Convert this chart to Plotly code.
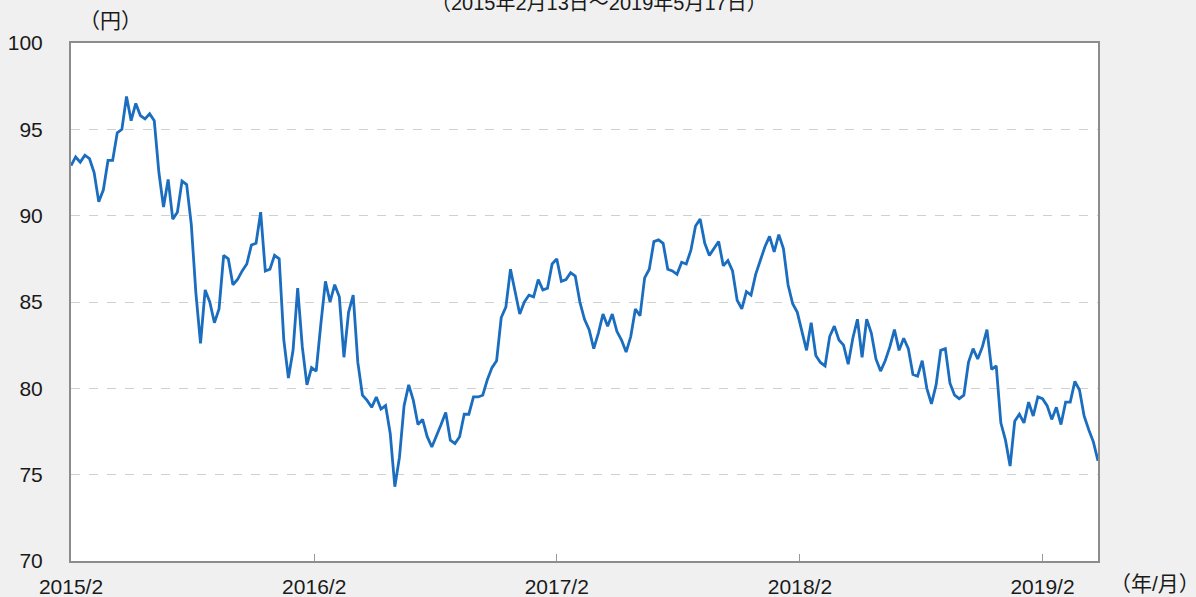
import pandas as pd
import plotly.graph_objects as go

# Weekly closing values (yen)
values = [
    92.9, 93.4, 93.1, 93.5, 93.3, 92.5, 90.8, 91.5, 93.2, 93.2,
    94.8, 95.0, 96.9, 95.5, 96.5, 95.8, 95.6, 95.9, 95.5, 92.5,
    90.5, 92.1, 89.8, 90.2, 92.0, 91.8, 89.5, 85.5, 82.6, 85.7,
    85.0, 83.8, 84.6, 87.7, 87.5, 86.0, 86.3, 86.8, 87.2, 88.3,
    88.4, 90.2, 86.8, 86.9, 87.7, 87.5, 82.8, 80.6, 82.2, 85.8,
    82.4, 80.2, 81.2, 81.0, 83.7, 86.2, 85.0, 86.0, 85.3, 81.8,
    84.4, 85.4, 81.5, 79.6, 79.3, 78.9, 79.5, 78.8, 79.0, 77.4,
    74.3, 76.0, 79.0, 80.2, 79.3, 77.9, 78.2, 77.2, 76.6, 77.2,
    77.9,
    78.6, 77.0, 76.8, 77.2, 78.5, 78.5, 79.5, 79.5, 79.6, 80.5,
    81.2, 81.6, 84.1, 84.7, 86.9, 85.6, 84.3, 85.0, 85.4, 85.3,
    86.3, 85.7, 85.8, 87.2, 87.5, 86.2, 86.3, 86.7, 86.5, 85.0,
    84.0, 83.4, 82.3, 83.2, 84.3, 83.6, 84.3, 83.3, 82.8, 82.1,
    83.0, 84.6, 84.2, 86.4, 86.9, 88.5, 88.6, 88.4, 86.9, 86.8,
    86.6, 87.3, 87.2, 88.0, 89.4, 89.8, 88.4, 87.7, 88.1, 88.5,
    87.1, 87.4, 86.8, 85.1, 84.6, 85.6, 85.4, 86.6, 87.4, 88.2,
    88.8, 87.9, 88.9, 88.1, 86.0, 84.9, 84.4, 83.3, 82.2, 83.8,
    81.9, 81.5, 81.3, 83.0, 83.6, 82.8, 82.5, 81.4, 82.9, 84.0,
    81.8, 84.0, 83.2, 81.7, 81.0, 81.6, 82.4, 83.4, 82.2, 82.9,
    82.3, 80.8,
    80.7, 81.6, 80.0, 79.1, 80.2, 82.2, 82.3, 80.3, 79.6, 79.4,
    79.6, 81.5, 82.3, 81.7, 82.4, 83.4, 81.1, 81.3, 78.0, 77.0,
    75.5, 78.1, 78.5, 78.0, 79.2, 78.4, 79.5, 79.4, 79.0, 78.2,
    78.9, 77.9, 79.2, 79.2, 80.4, 79.9, 78.4, 77.6, 76.9, 75.8,
]
dates = pd.date_range("2015-02-13", periods=len(values), freq="7D")

tick_dates = ["2015-02-13", "2016-02-16", "2017-02-17", "2018-02-20", "2019-02-22"]
tick_labels = ["2015/2", "2016/2", "2017/2", "2018/2", "2019/2"]

FONT = "Liberation Sans, Arial, Noto Sans CJK JP, sans-serif"

fig = go.Figure()
fig.add_trace(go.Scatter(
    x=dates, y=values, mode="lines",
    line=dict(color="#1a6dbf", width=2.8),
    hoverinfo="skip", showlegend=False,
))

fig.update_layout(
    width=1196, height=597,
    margin=dict(l=71, r=98, t=43, b=36, autoexpand=False),
    paper_bgcolor="#f0f0f0", plot_bgcolor="#ffffff",
    font=dict(family=FONT, size=21, color="#1a1a1a"),
    xaxis=dict(
        type="date",
        range=["2015-02-13", "2019-05-17"],
        tickvals=tick_dates, ticktext=tick_labels,
        ticks="inside", ticklen=7, tickcolor="#999999", tickwidth=1,
        showgrid=False, zeroline=False,
        showline=True, linecolor="#8c8c8c", linewidth=2, mirror=True,
        automargin=False, ticklabelstandoff=6,
        tickfont=dict(size=21, color="#1a1a1a"),
    ),
    yaxis=dict(
        range=[70, 100], tick0=70, dtick=5,
        ticks="", showgrid=True, gridcolor="#d0d0d0", griddash="dash", gridwidth=1,
        zeroline=False,
        showline=True, linecolor="#8c8c8c", linewidth=2, mirror=True,
        automargin=False, ticklabelstandoff=22,
        tickfont=dict(size=21, color="#1a1a1a"),
    ),
    annotations=[
        dict(text="（円）", xref="paper", yref="paper", x=0.038, y=1.0444,
             xanchor="center", yanchor="middle", showarrow=False,
             font=dict(size=21, color="#1a1a1a")),
        dict(text="（年/月）", xref="paper", yref="paper", x=1.0555, y=-0.0425,
             xanchor="center", yanchor="middle", showarrow=False,
             font=dict(size=21, color="#1a1a1a")),
        dict(text="（2015年2月13日～2019年5月17日）", xref="paper", yref="paper",
             x=0.514, y=1.077, xanchor="center", yanchor="middle", showarrow=False,
             font=dict(size=20, color="#1a1a1a")),
    ],
)

fig.write_html(
    "out.html",
    config={"displayModeBar": False},
    post_script="document.body.style.margin='0';document.body.style.overflow='hidden';",
)
